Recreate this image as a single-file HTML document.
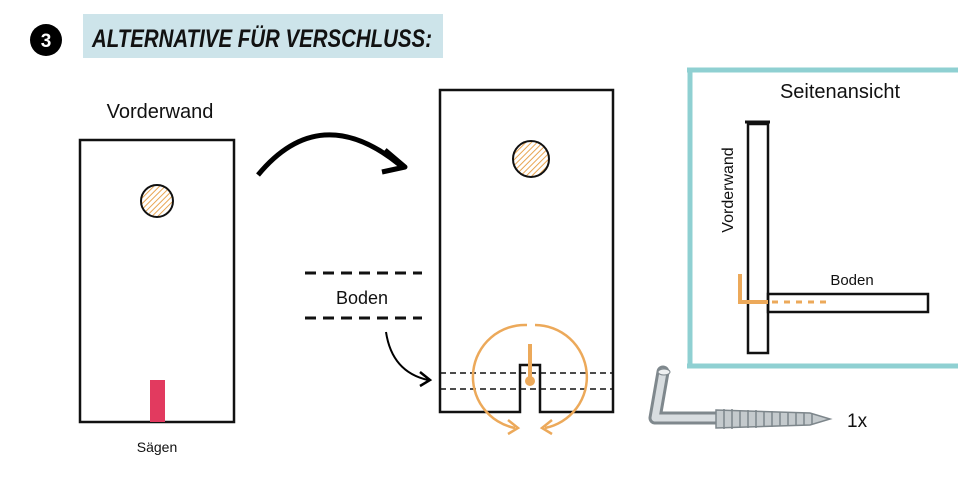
<!DOCTYPE html>
<html><head><meta charset="utf-8"><style>
body{margin:0;background:#fff;width:958px;height:479px;overflow:hidden}
svg{display:block}
text{font-family:"Liberation Sans",sans-serif}
</style></head><body>
<svg width="958" height="479" viewBox="0 0 958 479" xmlns="http://www.w3.org/2000/svg">
<defs>
<pattern id="h" width="4" height="4" patternUnits="userSpaceOnUse" patternTransform="rotate(45)">
<rect width="4" height="4" fill="#fff"/><line x1="0" y1="0" x2="0" y2="4" stroke="#e8a552" stroke-width="2"/></pattern>
</defs>
<circle cx="46" cy="40" r="16" fill="#000"/>
<text x="46" y="47" font-size="19" font-weight="bold" fill="#fff" text-anchor="middle">3</text>
<rect x="83" y="14" width="360" height="44" fill="#cde4ea"/>
<text x="92" y="47" font-size="25" font-weight="bold" font-style="italic" fill="#111" textLength="340" lengthAdjust="spacingAndGlyphs">ALTERNATIVE FÜR VERSCHLUSS:</text>

<text x="160" y="118" font-size="20" text-anchor="middle" fill="#111">Vorderwand</text>
<rect x="80" y="140" width="154" height="282" fill="none" stroke="#111" stroke-width="2.5"/>
<circle cx="157" cy="201" r="16" fill="url(#h)" stroke="#111" stroke-width="2"/>
<rect x="150" y="380" width="15" height="42" fill="#e23a5f"/>
<text x="157" y="452" font-size="14" text-anchor="middle" fill="#111">Sägen</text>

<path d="M258,175 Q320,100 400,165" fill="none" stroke="#000" stroke-width="5"/>
<path d="M385,150 L405,167 L382,172" fill="none" stroke="#000" stroke-width="5" stroke-linejoin="round"/>

<line x1="305" y1="273" x2="422" y2="273" stroke="#111" stroke-width="3" stroke-dasharray="11,7"/>
<line x1="305" y1="318" x2="422" y2="318" stroke="#111" stroke-width="3" stroke-dasharray="11,7"/>
<text x="362" y="304" font-size="18" text-anchor="middle" fill="#111">Boden</text>
<path d="M386,332 Q392,372 428,380" fill="none" stroke="#000" stroke-width="2"/>
<path d="M420,372 L430,380 L420,386" fill="none" stroke="#000" stroke-width="2.5"/>

<path d="M440,90 H613 V412 H540 V365 H520 V412 H440 Z" fill="none" stroke="#111" stroke-width="2.5"/>
<circle cx="531" cy="159" r="18" fill="url(#h)" stroke="#111" stroke-width="2"/>
<line x1="440" y1="373" x2="613" y2="373" stroke="#111" stroke-width="1.5" stroke-dasharray="6,4"/>
<line x1="440" y1="389" x2="613" y2="389" stroke="#111" stroke-width="1.5" stroke-dasharray="6,4"/>
<path d="M527,325 A52,52 0 0 0 515,428" fill="none" stroke="#eca95a" stroke-width="2.5"/>
<path d="M535,325 A52,52 0 0 1 545,428" fill="none" stroke="#eca95a" stroke-width="2.5"/>
<path d="M508,420 L518,428 L508,434" fill="none" stroke="#eca95a" stroke-width="2.5"/>
<path d="M552,420 L542,428 L552,434" fill="none" stroke="#eca95a" stroke-width="2.5"/>
<line x1="530" y1="344" x2="530" y2="380" stroke="#eca95a" stroke-width="4"/>
<circle cx="530" cy="381" r="5" fill="#eca95a"/>

<g stroke="#8fd0d2" stroke-width="5" fill="none">
<line x1="687" y1="70" x2="958" y2="70"/><line x1="687" y1="366" x2="958" y2="366"/><line x1="690" y1="68" x2="690" y2="368"/>
</g>
<text x="840" y="98" font-size="20" text-anchor="middle" fill="#111">Seitenansicht</text>
<rect x="748" y="124" width="20" height="229" fill="none" stroke="#111" stroke-width="2.5"/>
<line x1="745" y1="122" x2="770" y2="122" stroke="#111" stroke-width="3"/>
<text transform="translate(733,190) rotate(-90)" font-size="16" text-anchor="middle" fill="#111">Vorderwand</text>
<rect x="768" y="294" width="160" height="18" fill="none" stroke="#111" stroke-width="2.5"/>
<text x="852" y="285" font-size="15" text-anchor="middle" fill="#111">Boden</text>
<path d="M740,274 V302 H768" fill="none" stroke="#eca95a" stroke-width="4"/>
<line x1="772" y1="302" x2="830" y2="302" stroke="#eca95a" stroke-width="3" stroke-dasharray="6,6"/>

<g>
<path d="M663,372 L655,418 L716,418" fill="none" stroke="#7f888d" stroke-width="13" stroke-linejoin="round" stroke-linecap="round"/>
<path d="M663,372 L655,418 L716,418" fill="none" stroke="#d8dde0" stroke-width="7" stroke-linejoin="round" stroke-linecap="round"/>
<ellipse cx="664" cy="372" rx="6" ry="3" fill="#eef0f1" stroke="#7f888d"/>
<path d="M716,410 L810,413 L830,419 L810,425 L716,428 Z" fill="#c4cacd" stroke="#7d868b" stroke-width="1.5"/>
<g stroke="#7d868b" stroke-width="1.5">
<line x1="724" y1="409" x2="724" y2="429"/><line x1="732" y1="409" x2="732" y2="429"/><line x1="740" y1="410" x2="740" y2="428"/><line x1="748" y1="410" x2="748" y2="428"/><line x1="756" y1="410" x2="756" y2="428"/><line x1="764" y1="411" x2="764" y2="427"/><line x1="772" y1="411" x2="772" y2="427"/><line x1="780" y1="412" x2="780" y2="426"/><line x1="788" y1="412" x2="788" y2="426"/><line x1="796" y1="413" x2="796" y2="425"/><line x1="804" y1="413" x2="804" y2="425"/><line x1="812" y1="414" x2="812" y2="424"/>
</g>
</g>
<text x="847" y="427" font-size="19" fill="#111">1x</text>
</svg>
</body></html>
